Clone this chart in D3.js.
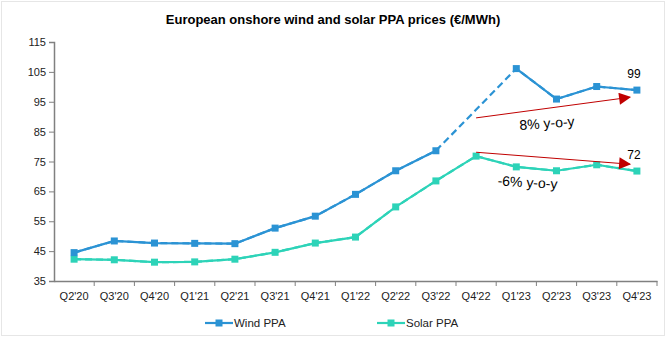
<!DOCTYPE html>
<html>
<head>
<meta charset="utf-8">
<script src="https://cdn.jsdelivr.net/npm/d3@7"></script>
<style>
	body { margin: 0; background: #fff; }
	svg { font-family: "Liberation Sans", Arial, sans-serif; }
</style>
</head>
<body>
<svg id="chart" width="667" height="337"></svg>
<script>
const quarters = ["Q2'20","Q3'20","Q4'20","Q1'21","Q2'21","Q3'21","Q4'21","Q1'22","Q2'22","Q3'22","Q4'22","Q1'23","Q2'23","Q3'23","Q4'23"];
const wind = [44.5, 48.4, 47.7, 47.6, 47.5, 52.7, 56.7, 64.0, 71.9, 78.6, null, 106.1, 95.9, 100.1, 98.9];
const solar = [42.3, 42.1, 41.3, 41.4, 42.3, 44.6, 47.7, 49.7, 59.8, 68.5, 76.8, 73.2, 71.9, 73.9, 71.8];
const yTicks = [35, 45, 55, 65, 75, 85, 95, 105, 115];
// y-o-y arrows: [quarter, value] start and end, label anchored at a quarter/value
const arrows = [
	{ from: ["Q4'22", 89.6], to: ["Q4'23", 96.5], label: '8% y-o-y', at: ["Q1'23", 86.2], dx: 31, rot: -4 },
	{ from: ["Q4'22", 78.1], to: ["Q4'23", 74.1], label: '-6% y-o-y', at: ["Q1'23", 66.4], dx: 11, rot: 3 }
];
const endLabels = [
	{ q: "Q4'23", v: 98.9, text: '99' },
	{ q: "Q4'23", v: 71.8, text: '72' }
];

const windColor = '#2b93d4';
const solarColor = '#2dd3b8';
const arrowColor = '#c00000';

let svg = d3.select('#chart');
let margin = { left: 54, right: 10, top: 42, bottom: 56 };
let width = 667, height = 337;

// faint frame
svg.append('rect')
	.attr('x', 1.5).attr('y', 1.5)
	.attr('width', width - 4).attr('height', height - 3)
	.attr('fill', 'none').attr('stroke', '#e6e6e6');

svg.append('text')
	.attr('x', 333).attr('y', 24)
	.attr('text-anchor', 'middle')
	.attr('font-size', 13).attr('font-weight', 'bold')
	.text('European onshore wind and solar PPA prices (€/MWh)');

let x = d3.scaleBand()
	.domain(quarters)
	.range([margin.left, 657]);

let y = d3.scaleLinear()
	.domain([35, 115])
	.range([281, 42]);

let cx = function(q) { return x(q) + x.bandwidth() / 2; };

// axes
let yAxis = svg.append('g')
	.attr('transform', 'translate(' + margin.left + ',0)')
	.call(d3.axisLeft(y).tickValues(yTicks).tickSize(5).tickPadding(3));

let xAxis = svg.append('g')
	.attr('transform', 'translate(0,281)')
	.call(d3.axisBottom(x).tickSize(0).tickPadding(11));

xAxis.selectAll('.tick').append('line')
	.attr('x1', x.bandwidth() / 2).attr('x2', x.bandwidth() / 2)
	.attr('y1', 0).attr('y2', 5)
	.attr('stroke', '#808080');

[yAxis, xAxis].forEach(function(a) {
	a.select('.domain').attr('stroke', '#808080').attr('stroke-width', 1.5);
	a.selectAll('.tick line').attr('stroke', '#808080');
	a.selectAll('.tick text')
		.attr('font-size', 11)
		.attr('font-family', '"Liberation Sans", Arial, sans-serif')
		.attr('fill', '#222');
});

// lines
let line = d3.line()
	.defined(function(d) { return d.v != null; })
	.x(function(d) { return cx(d.q); })
	.y(function(d) { return y(d.v); });

function series(values) {
	return quarters.map(function(q, i) { return { q: q, v: values[i] }; });
}

function drawSeries(values, color) {
	let data = series(values);
	let present = data.filter(function(d) { return d.v != null; });
	// dashed bridge over missing quarters
	svg.append('path')
		.datum(present)
		.attr('d', line)
		.attr('fill', 'none')
		.attr('stroke', color)
		.attr('stroke-width', 2.2)
		.attr('stroke-dasharray', '7,4');
	svg.append('path')
		.datum(data)
		.attr('d', line)
		.attr('fill', 'none')
		.attr('stroke', color)
		.attr('stroke-width', 2.2);
	svg.selectAll(null)
		.data(present)
		.enter()
		.append('rect')
		.attr('x', function(d) { return cx(d.q) - 3.5; })
		.attr('y', function(d) { return y(d.v) - 3.5; })
		.attr('width', 7).attr('height', 7)
		.attr('fill', color);
}

drawSeries(solar, solarColor);
drawSeries(wind, windColor);

// arrows
svg.append('defs').append('marker')
	.attr('id', 'head')
	.attr('viewBox', '0 0 10 10')
	.attr('refX', 9).attr('refY', 5)
	.attr('markerWidth', 14).attr('markerHeight', 12)
	.attr('markerUnits', 'userSpaceOnUse')
	.attr('orient', 'auto')
	.append('path')
	.attr('d', 'M0,0L10,5L0,10Z')
	.attr('fill', arrowColor);

arrows.forEach(function(a) {
	svg.append('line')
		.attr('x1', cx(a.from[0])).attr('y1', y(a.from[1]))
		.attr('x2', cx(a.to[0]) - 7).attr('y2', y(a.to[1]))
		.attr('stroke', arrowColor)
		.attr('stroke-width', 1)
		.attr('marker-end', 'url(#head)');
	let tx = cx(a.at[0]) + a.dx, ty = y(a.at[1]);
	svg.append('text')
		.attr('x', tx).attr('y', ty)
		.attr('text-anchor', 'middle')
		.attr('font-size', 14)
		.attr('transform', 'rotate(' + a.rot + ',' + tx + ',' + ty + ')')
		.text(a.label);
});

endLabels.forEach(function(l) {
	svg.append('text')
		.attr('x', cx(l.q) - 3).attr('y', y(l.v) - 12)
		.attr('text-anchor', 'middle')
		.attr('font-size', 12)
		.text(l.text);
});

// legend
let legend = [
	{ name: 'Wind PPA', color: windColor, x: 205 },
	{ name: 'Solar PPA', color: solarColor, x: 377 }
];
let lg = svg.selectAll('g.legend')
	.data(legend)
	.enter()
	.append('g')
	.attr('class', 'legend')
	.attr('transform', function(d) { return 'translate(' + d.x + ',323)'; });

lg.append('line')
	.attr('x1', 0).attr('x2', 28)
	.attr('stroke', function(d) { return d.color; })
	.attr('stroke-width', 2.2);
lg.append('rect')
	.attr('x', 10.5).attr('y', -3.5)
	.attr('width', 7).attr('height', 7)
	.attr('fill', function(d) { return d.color; });
lg.append('text')
	.attr('x', 29).attr('y', 4)
	.attr('font-size', 11.5)
	.attr('fill', '#222')
	.text(function(d) { return d.name; });
</script>
</body>
</html>
